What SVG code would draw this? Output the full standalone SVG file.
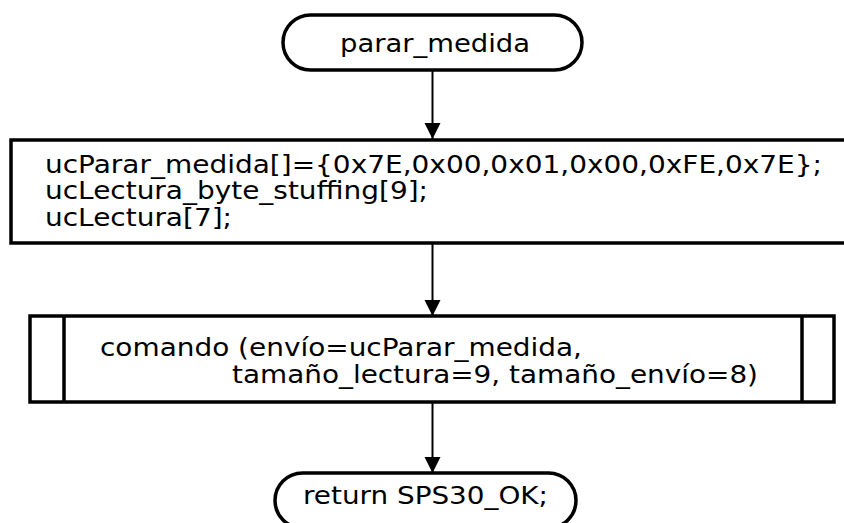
<svg xmlns="http://www.w3.org/2000/svg" width="844" height="523" viewBox="0 0 844 523">
  <style>
    .shape { fill: #ffffff; stroke: #000000; stroke-width: 3.5; }
    .edge { fill: none; stroke: #000000; stroke-width: 2; }
    .label { font-family: "DejaVu Sans", "Liberation Sans", sans-serif; font-size: 25.5px; fill: #000000; }
  </style>
  <defs>
    <marker id="arrow" viewBox="0 0 16 24" refX="16" refY="8" markerWidth="16" markerHeight="24" markerUnits="userSpaceOnUse" orient="auto">
      <path d="M0,0 L24,8 L0,16 Z" fill="#000000" transform="scale(0.6667,1)"/>
    </marker>
  </defs>

  <!-- connectors -->
  <g id="connectors">
    <line class="edge" x1="432.5" y1="70" x2="432.5" y2="139" marker-end="url(#arrow)"/>
    <line class="edge" x1="432.5" y1="243" x2="432.5" y2="316" marker-end="url(#arrow)"/>
    <line class="edge" x1="432.5" y1="402" x2="432.5" y2="473" marker-end="url(#arrow)"/>
  </g>

  <!-- start terminator -->
  <g id="start">
    <rect class="shape" x="283" y="15" width="299" height="55" rx="27.5" ry="27.5"/>
    <text class="label" x="340" y="52" textLength="190" lengthAdjust="spacingAndGlyphs">parar_medida</text>
  </g>

  <!-- variable declarations -->
  <g id="declarations">
    <rect class="shape" x="11" y="140" width="860" height="103"/>
    <text class="label" x="45" y="172.5" textLength="777" lengthAdjust="spacingAndGlyphs">ucParar_medida[]={0x7E,0x00,0x01,0x00,0xFE,0x7E};</text>
    <text class="label" x="45" y="199" textLength="383" lengthAdjust="spacingAndGlyphs">ucLectura_byte_stuffing[9];</text>
    <text class="label" x="45" y="225.5" textLength="187" lengthAdjust="spacingAndGlyphs">ucLectura[7];</text>
  </g>

  <!-- subroutine call -->
  <g id="comando">
    <rect class="shape" x="30" y="316" width="804" height="86"/>
    <line class="shape" x1="64" y1="316" x2="64" y2="402"/>
    <line class="shape" x1="802" y1="316" x2="802" y2="402"/>
    <text class="label" x="100" y="356" textLength="482" lengthAdjust="spacingAndGlyphs">comando (envío=ucParar_medida,</text>
    <text class="label" x="232" y="383" textLength="526" lengthAdjust="spacingAndGlyphs">tamaño_lectura=9, tamaño_envío=8)</text>
  </g>

  <!-- end terminator -->
  <g id="end">
    <rect class="shape" x="275" y="473" width="301" height="55" rx="27.5" ry="27.5"/>
    <text class="label" x="303" y="504" textLength="245" lengthAdjust="spacingAndGlyphs">return SPS30_OK;</text>
  </g>
</svg>
